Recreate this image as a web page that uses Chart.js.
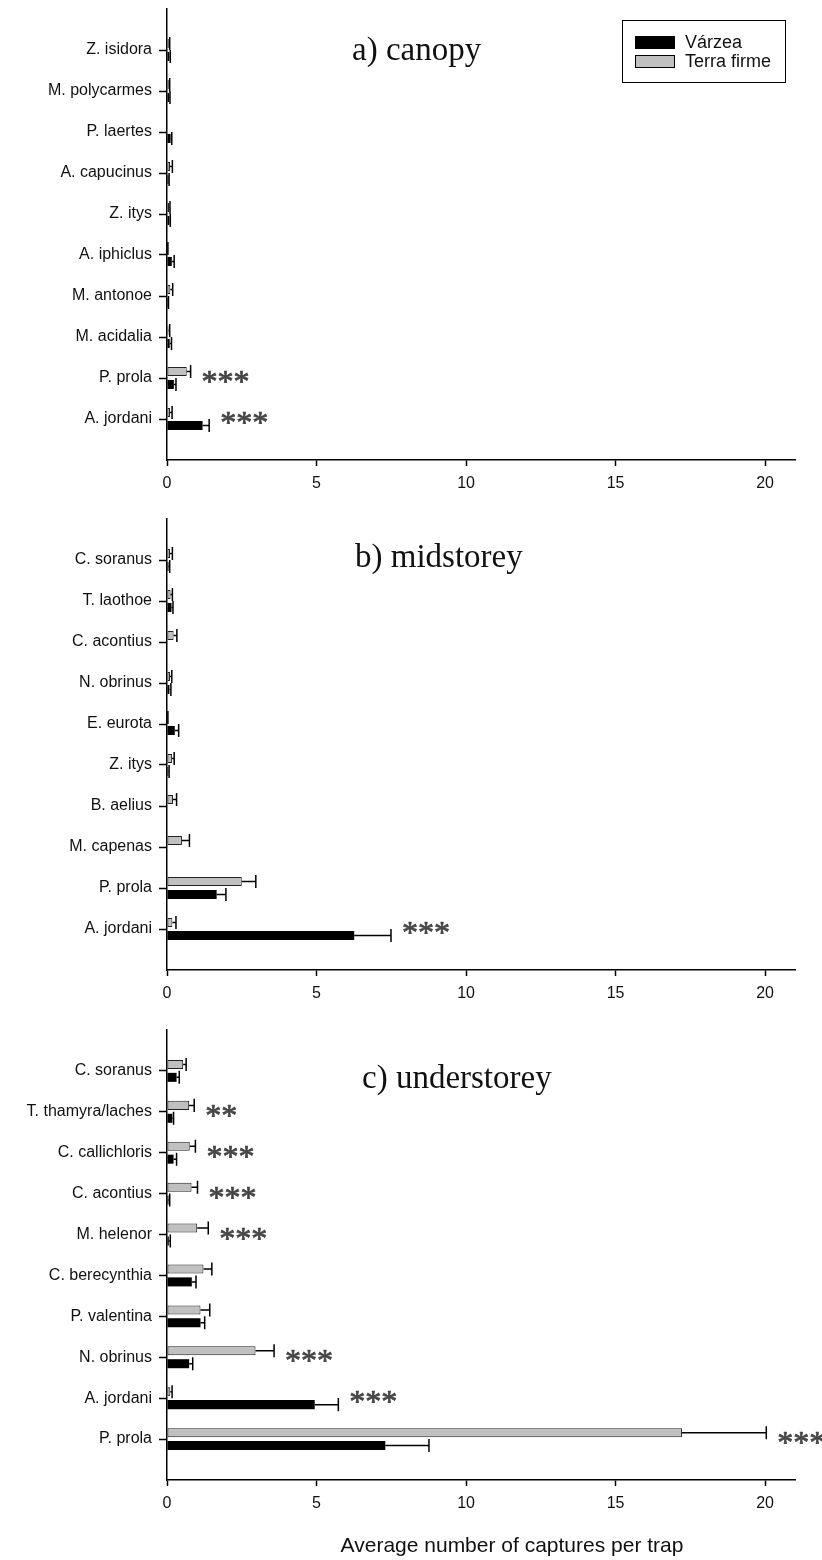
<!DOCTYPE html>
<html>
<head>
<meta charset="utf-8">
<script src="https://cdn.jsdelivr.net/npm/chart.js@4.4.1/dist/chart.umd.min.js"></script>
<style>
  html, body { margin: 0; padding: 0; background: #fff; }
  canvas { display: block; }
</style>
</head>
<body>
<canvas id="canopy" width="822" height="510"></canvas>
<canvas id="midstorey" width="822" height="510"></canvas>
<canvas id="understorey" width="822" height="540"></canvas>
<script>
// Mean captures per trap (± SE) of fruit-feeding butterflies by forest stratum
const seriesNames = ['Várzea', 'Terra firme'];
const xTicks = [0, 5, 10, 15, 20];
const axisTitle = 'Average number of captures per trap';

// a) canopy
const canopySpecies = ['Z. isidora', 'M. polycarmes', 'P. laertes', 'A. capucinus', 'Z. itys',
  'A. iphiclus', 'M. antonoe', 'M. acidalia', 'P. prola', 'A. jordani'];
const canopyVarzea    = [0.08, 0.07, 0.12, 0.05, 0.08, 0.16, 0.03, 0.09, 0.23, 1.19];
const canopyVarzeaErr = [0.03, 0.03, 0.04, 0.02, 0.03, 0.08, 0.02, 0.06, 0.07, 0.22];
const canopyTerra     = [0.06, 0.06, 0.01, 0.10, 0.07, 0.02, 0.11, 0.05, 0.66, 0.10];
const canopyTerraErr  = [0.03, 0.03, 0.00, 0.08, 0.03, 0.01, 0.08, 0.04, 0.13, 0.07];
const canopySig = [['P. prola', '***'], ['A. jordani', '***']];

// b) midstorey
const midSpecies = ['C. soranus', 'T. laothoe', 'C. acontius', 'N. obrinus', 'E. eurota',
  'Z. itys', 'B. aelius', 'M. capenas', 'P. prola', 'A. jordani'];
const midVarzea    = [0.05, 0.15, 0.00, 0.08, 0.26, 0.04, 0.00, 0.00, 1.66, 6.26];
const midVarzeaErr = [0.04, 0.05, 0.00, 0.05, 0.13, 0.03, 0.00, 0.00, 0.31, 1.23];
const midTerra     = [0.10, 0.12, 0.22, 0.10, 0.02, 0.17, 0.20, 0.50, 2.50, 0.18];
const midTerraErr  = [0.08, 0.06, 0.11, 0.06, 0.01, 0.07, 0.12, 0.25, 0.47, 0.12];
const midSig = [['A. jordani', '***']];

// c) understorey
const underSpecies = ['C. soranus', 'T. thamyra/laches', 'C. callichloris', 'C. acontius', 'M. helenor',
  'C. berecynthia', 'P. valentina', 'N. obrinus', 'A. jordani', 'P. prola'];
const underVarzea    = [0.32, 0.18, 0.22, 0.05, 0.06, 0.83, 1.12, 0.74, 4.94, 7.30];
const underVarzeaErr = [0.09, 0.04, 0.10, 0.04, 0.05, 0.14, 0.14, 0.12, 0.79, 1.46];
const underTerra     = [0.54, 0.74, 0.76, 0.82, 1.01, 1.22, 1.12, 2.96, 0.11, 17.22];
const underTerraErr  = [0.10, 0.17, 0.19, 0.20, 0.37, 0.28, 0.31, 0.62, 0.06, 2.82];
const underSig = [['T. thamyra/laches', '**'], ['C. callichloris', '***'], ['C. acontius', '***'],
  ['M. helenor', '***'], ['N. obrinus', '***'], ['A. jordani', '***'], ['P. prola', '***']];

const SANS = "'Liberation Sans', Arial, sans-serif";
const SERIF = "'Liberation Serif', 'Times New Roman', serif";
const INK = '#111';
const GREY = '#c0c0c0';

// blank rows above and below the species give the half-empty margins of each panel
const pad = arr => [null, ...arr, null];

// one-sided error whiskers drawn from the bar end
const errorBars = {
  id: 'errorBars',
  afterDatasetsDraw(chart) {
    const ctx = chart.ctx, xs = chart.scales.x;
    chart.data.datasets.forEach((ds, di) => {
      const meta = chart.getDatasetMeta(di);
      meta.data.forEach((bar, i) => {
        const v = ds.data[i], e = ds.errors[i];
        if (v == null || !e) return;
        const x0 = xs.getPixelForValue(v), x1 = xs.getPixelForValue(v + e);
        const h = bar.height / 2 + 2;
        ctx.save();
        ctx.strokeStyle = '#000';
        ctx.lineWidth = 1.5;
        ctx.beginPath();
        ctx.moveTo(x0, bar.y); ctx.lineTo(x1, bar.y);
        ctx.moveTo(x1, bar.y - h); ctx.lineTo(x1, bar.y + h);
        ctx.stroke();
        ctx.restore();
      });
    });
  }
};

// panel heading, significance stars, legend and axis title
const decorations = {
  id: 'decorations',
  afterDraw(chart, args, o) {
    const ctx = chart.ctx, xs = chart.scales.x, ys = chart.scales.y;
    ctx.save();
    ctx.fillStyle = INK;
    ctx.font = '33px ' + SERIF;
    ctx.textAlign = 'left';
    ctx.textBaseline = 'alphabetic';
    ctx.fillText(o.heading, o.headingX, o.headingY);

    // significance stars
    ctx.font = '32px ' + SERIF;
    ctx.fillStyle = '#444';
    ctx.strokeStyle = '#444';
    ctx.lineWidth = 0.7;
    o.sig.forEach(([name, mark]) => {
      const i = o.species.indexOf(name);
      const ends = chart.data.datasets.map(ds => (ds.data[i + 1] || 0) + (ds.errors[i + 1] || 0));
      const px = xs.getPixelForValue(Math.max(...ends)) + 11;
      const py = ys.getPixelForValue(i + 1);
      const m = ctx.measureText(mark);
      const base = py - 1 + (m.actualBoundingBoxAscent - m.actualBoundingBoxDescent) / 2;
      ctx.fillText(mark, px, base);
      ctx.strokeText(mark, px, base);
    });

    if (o.legend) {
      const L = o.legend;
      ctx.strokeStyle = '#000';
      ctx.lineWidth = 1;
      ctx.strokeRect(L.x + 0.5, L.y + 0.5, L.w, L.h);
      const rows = [{ fill: '#000', label: seriesNames[0] }, { fill: GREY, label: seriesNames[1] }];
      ctx.font = '18px ' + SANS;
      ctx.textBaseline = 'middle';
      rows.forEach((r, k) => {
        const ry = L.y + 16 + k * 19;
        ctx.fillStyle = r.fill;
        ctx.fillRect(L.x + 13, ry, 40, 13);
        ctx.strokeStyle = '#000';
        ctx.strokeRect(L.x + 13.5, ry + 0.5, 39, 12);
        ctx.fillStyle = INK;
        ctx.fillText(r.label, L.x + 63, ry + 7);
      });
    }

    if (o.axisTitle) {
      ctx.font = '21px ' + SANS;
      ctx.fillStyle = INK;
      ctx.textAlign = 'center';
      ctx.textBaseline = 'middle';
      ctx.fillText(axisTitle, o.axisTitleX, o.axisTitleY);
    }
    ctx.restore();
  }
};

function makePanel(id, species, varzea, varzeaErr, terra, terraErr, deco, xAxisHeight, topPad) {
  const labels = ['', ...species, ''];
  const last = labels.length - 1;
  return new Chart(document.getElementById(id), {
    type: 'bar',
    data: {
      labels,
      datasets: [
        {
          label: seriesNames[1],
          data: pad(terra),
          errors: pad(terraErr),
          backgroundColor: GREY,
          borderColor: '#222',
          borderWidth: 1,
          borderSkipped: false
        },
        {
          label: seriesNames[0],
          data: pad(varzea),
          errors: pad(varzeaErr),
          backgroundColor: '#000',
          borderColor: '#000',
          borderWidth: 0
        }
      ]
    },
    options: {
      indexAxis: 'y',
      responsive: false,
      animation: false,
      devicePixelRatio: 1,
      categoryPercentage: 0.63,
      barPercentage: 0.7,
      layout: { padding: { top: topPad, right: 27, bottom: 0, left: 0 } },
      plugins: {
        legend: { display: false },
        tooltip: { enabled: false },
        decorations: deco
      },
      scales: {
        x: {
          type: 'linear',
          min: 0,
          max: 21,
          afterBuildTicks: s => { s.ticks = xTicks.map(v => ({ value: v })); },
          afterFit: s => { s.height = xAxisHeight; s.paddingLeft = 0; s.paddingRight = 0; },
          border: { display: true, color: '#000', width: 1.5 },
          grid: { drawOnChartArea: false, drawTicks: true, tickLength: 6, tickColor: '#000', tickWidth: 1.5 },
          ticks: { color: INK, font: { family: SANS, size: 16 }, padding: 8, maxRotation: 0 }
        },
        y: {
          type: 'category',
          offset: false,
          afterFit: s => { s.width = 167; s.paddingTop = 0; s.paddingBottom = 0; },
          border: { display: true, color: '#000', width: 1.5 },
          grid: {
            offset: false,
            drawOnChartArea: false,
            tickLength: 8,
            tickWidth: 1.5,
            tickColor: c => (c.index === 0 || c.index === last) ? 'rgba(0,0,0,0)' : '#000'
          },
          ticks: { color: INK, font: { family: SANS, size: 16 }, padding: 7, autoSkip: false }
        }
      }
    },
    plugins: [errorBars, decorations]
  });
}

makePanel('canopy', canopySpecies, canopyVarzea, canopyVarzeaErr, canopyTerra, canopyTerraErr, {
  heading: 'a) canopy', headingX: 352, headingY: 60,
  species: canopySpecies, sig: canopySig,
  legend: { x: 622, y: 20, w: 163, h: 62 }
}, 50, 9);

makePanel('midstorey', midSpecies, midVarzea, midVarzeaErr, midTerra, midTerraErr, {
  heading: 'b) midstorey', headingX: 355, headingY: 57,
  species: midSpecies, sig: midSig
}, 50, 9);

makePanel('understorey', underSpecies, underVarzea, underVarzeaErr, underTerra, underTerraErr, {
  heading: 'c) understorey', headingX: 362, headingY: 68,
  species: underSpecies, sig: underSig,
  axisTitle: true, axisTitleX: 512, axisTitleY: 526
}, 80, 10);
</script>
</body>
</html>
